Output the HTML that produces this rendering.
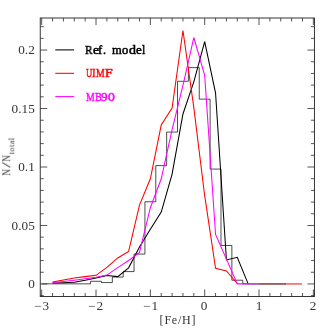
<!DOCTYPE html>
<html><head><meta charset="utf-8"><title>MDF</title>
<style>
html,body{margin:0;padding:0;background:#fff;}
body{width:332px;height:332px;position:relative;overflow:hidden;font-family:"Liberation Serif",serif;}
.t,.lg{will-change:transform;}
.t{position:absolute;font-size:12px;line-height:12px;color:#333;white-space:nowrap;}
.lg{position:absolute;font-size:12px;line-height:12px;-webkit-text-stroke:0.5px currentColor;white-space:nowrap;}
.yl{left:0px;top:0px;transform-origin:0 0;transform:translate(0.26px,175.8px) rotate(-90deg);}
.sub{font-size:8px;position:relative;top:4.4px;letter-spacing:0.6px;margin-left:0.3px;}
.nn{display:inline-block;width:6.9px;transform:scaleX(0.78);transform-origin:0 50%;}
.sl{display:inline-block;width:6.6px;margin-left:0.8px;transform:scaleX(1.75);transform-origin:0 50%;}
</style></head><body>
<svg width="332" height="332" viewBox="0 0 332 332" style="position:absolute;left:0;top:0">
<g fill="none" stroke-linejoin="miter">
<polyline points="41.70,283.85 90.60,283.85 90.60,281.28 101.46,281.28 101.46,282.57 112.33,282.57 112.33,277.08 123.20,277.08 123.20,271.59 134.06,271.59 134.06,254.08 144.93,254.08 144.93,201.77 155.79,201.77 155.79,165.58 166.66,165.58 166.66,132.08 177.52,132.08 177.52,81.29 188.39,81.29 188.39,67.63 199.26,67.63 199.26,99.15 210.12,99.15 210.12,169.08 220.99,169.08 220.99,245.44 231.86,245.44 231.86,280.23 242.72,280.23 242.72,283.85 248.15,283.85" stroke="#000" stroke-width="0.7"/>
<polyline points="52.57,282.92 63.43,282.68 74.30,282.33 85.16,280.35 96.03,278.01 106.90,275.56 117.76,276.61 128.63,267.86 139.49,247.07 150.36,229.33 161.23,212.05 172.09,174.11 182.96,113.98 193.82,81.87 204.69,41.71 215.56,93.08 226.42,259.92 237.29,257.35 248.15,283.85" stroke="#000" stroke-width="1.05"/>
<polyline points="52.57,282.10 63.43,280.00 74.30,278.01 85.16,276.61 96.03,275.33 106.90,267.39 117.76,257.93 128.63,251.39 139.49,205.04 150.36,178.78 161.23,125.07 172.09,108.14 182.96,30.50 193.82,107.56 204.69,195.70 215.56,268.21 226.42,270.89 237.29,283.50" stroke="#ff0000" stroke-width="1.05"/>
<polyline points="52.57,282.45 63.43,281.52 74.30,280.35 85.16,278.83 96.03,277.31 106.90,275.09 117.76,267.62 128.63,260.50 139.49,252.33 150.36,207.73 161.23,178.78 172.09,129.74 182.96,85.38 193.82,37.51 204.69,75.45 215.56,234.46 226.42,259.10 237.29,283.85 248.15,283.85" stroke="#ff00ff" stroke-width="1.05"/>
<path d="M248.15 283.95H259.02" stroke="#9b09aa" stroke-width="1.3"/>
<path d="M259.02 283.95H286.19" stroke="#791414" stroke-width="1.3"/>
<path d="M286.19 283.95H301.94" stroke="#ff0000" stroke-width="1.0"/>
<path d="M55.3 49.9H74.1" stroke="#000" stroke-width="1.05"/>
<path d="M55.3 73.3H74.1" stroke="#ff0000" stroke-width="1.05"/>
<path d="M55.3 96.6H74.1" stroke="#ff00ff" stroke-width="1.05"/>
<rect x="40.25" y="18.0" width="274.20" height="278.50" stroke="#2c2c2c" stroke-width="0.95"/>
<path d="M41.70 296.50v-7.0M41.70 18.00v7.0M52.57 296.50v-3.5M52.57 18.00v3.5M63.43 296.50v-3.5M63.43 18.00v3.5M74.30 296.50v-3.5M74.30 18.00v3.5M85.16 296.50v-3.5M85.16 18.00v3.5M96.03 296.50v-7.0M96.03 18.00v7.0M106.90 296.50v-3.5M106.90 18.00v3.5M117.76 296.50v-3.5M117.76 18.00v3.5M128.63 296.50v-3.5M128.63 18.00v3.5M139.49 296.50v-3.5M139.49 18.00v3.5M150.36 296.50v-7.0M150.36 18.00v7.0M161.23 296.50v-3.5M161.23 18.00v3.5M172.09 296.50v-3.5M172.09 18.00v3.5M182.96 296.50v-3.5M182.96 18.00v3.5M193.82 296.50v-3.5M193.82 18.00v3.5M204.69 296.50v-7.0M204.69 18.00v7.0M215.56 296.50v-3.5M215.56 18.00v3.5M226.42 296.50v-3.5M226.42 18.00v3.5M237.29 296.50v-3.5M237.29 18.00v3.5M248.15 296.50v-3.5M248.15 18.00v3.5M259.02 296.50v-7.0M259.02 18.00v7.0M269.89 296.50v-3.5M269.89 18.00v3.5M280.75 296.50v-3.5M280.75 18.00v3.5M291.62 296.50v-3.5M291.62 18.00v3.5M302.48 296.50v-3.5M302.48 18.00v3.5M313.35 296.50v-7.0M313.35 18.00v7.0M40.25 295.64h3.5M314.45 295.64h-3.5M40.25 283.95h7.0M314.45 283.95h-7.0M40.25 272.25h3.5M314.45 272.25h-3.5M40.25 260.56h3.5M314.45 260.56h-3.5M40.25 248.86h3.5M314.45 248.86h-3.5M40.25 237.17h3.5M314.45 237.17h-3.5M40.25 225.47h7.0M314.45 225.47h-7.0M40.25 213.78h3.5M314.45 213.78h-3.5M40.25 202.08h3.5M314.45 202.08h-3.5M40.25 190.39h3.5M314.45 190.39h-3.5M40.25 178.69h3.5M314.45 178.69h-3.5M40.25 167.00h7.0M314.45 167.00h-7.0M40.25 155.30h3.5M314.45 155.30h-3.5M40.25 143.61h3.5M314.45 143.61h-3.5M40.25 131.91h3.5M314.45 131.91h-3.5M40.25 120.22h3.5M314.45 120.22h-3.5M40.25 108.53h7.0M314.45 108.53h-7.0M40.25 96.83h3.5M314.45 96.83h-3.5M40.25 85.13h3.5M314.45 85.13h-3.5M40.25 73.44h3.5M314.45 73.44h-3.5M40.25 61.74h3.5M314.45 61.74h-3.5M40.25 50.05h7.0M314.45 50.05h-7.0M40.25 38.35h3.5M314.45 38.35h-3.5M40.25 26.66h3.5M314.45 26.66h-3.5" stroke="#2c2c2c" stroke-width="0.8"/>
</g>
</svg>
<div class="t" style="left:-65.3px;width:100px;text-align:right;top:278.1px;letter-spacing:0.1px;transform:scaleX(1.1);transform-origin:100% 50%;">0</div><div class="t" style="left:-65.3px;width:100px;text-align:right;top:219.6px;letter-spacing:0.1px;transform:scaleX(1.1);transform-origin:100% 50%;">0.05</div><div class="t" style="left:-65.3px;width:100px;text-align:right;top:161.1px;letter-spacing:0.1px;transform:scaleX(1.1);transform-origin:100% 50%;">0.1</div><div class="t" style="left:-65.3px;width:100px;text-align:right;top:102.6px;letter-spacing:0.1px;transform:scaleX(1.1);transform-origin:100% 50%;">0.15</div><div class="t" style="left:-65.3px;width:100px;text-align:right;top:44.1px;letter-spacing:0.1px;transform:scaleX(1.1);transform-origin:100% 50%;">0.2</div><div class="t" style="left:-8.3px;width:100px;text-align:center;top:300.0px;letter-spacing:0.6px;transform:scaleX(1.1);transform-origin:50% 50%;">−3</div><div class="t" style="left:46.0px;width:100px;text-align:center;top:300.0px;letter-spacing:0.6px;transform:scaleX(1.1);transform-origin:50% 50%;">−2</div><div class="t" style="left:100.7px;width:100px;text-align:center;top:300.0px;letter-spacing:0.6px;transform:scaleX(1.1);transform-origin:50% 50%;">−1</div><div class="t" style="left:154.4px;width:100px;text-align:center;top:300.0px;transform:scaleX(1.1);transform-origin:50% 50%;">0</div><div class="t" style="left:209.2px;width:100px;text-align:center;top:300.0px;transform:scaleX(1.1);transform-origin:50% 50%;">1</div><div class="t" style="left:262.8px;width:100px;text-align:center;top:300.0px;transform:scaleX(1.1);transform-origin:50% 50%;">2</div><div class="t" style="left:127.5px;width:100px;text-align:center;top:314.4px;letter-spacing:0.8px;">[Fe/H]</div><div class="lg" style="left:85.18px;top:44.06px;color:#000;transform:scaleX(0.929);transform-origin:0 0;">R</div><div class="lg" style="left:92.58px;top:44.06px;color:#000;transform:scaleX(1.104);transform-origin:0 0;">e</div><div class="lg" style="left:98.01px;top:44.06px;color:#000;transform:scaleX(1.049);transform-origin:0 0;">f</div><div class="lg" style="left:103.22px;top:44.06px;color:#000;transform:scaleX(0.989);transform-origin:0 0;">.</div><div class="lg" style="left:112.34px;top:44.06px;color:#000;transform:scaleX(1.046);transform-origin:0 0;">m</div><div class="lg" style="left:122.43px;top:44.06px;color:#000;transform:scaleX(1.042);transform-origin:0 0;">o</div><div class="lg" style="left:128.50px;top:44.06px;color:#000;transform:scaleX(1.162);transform-origin:0 0;">d</div><div class="lg" style="left:135.69px;top:44.06px;color:#000;transform:scaleX(1.081);transform-origin:0 0;">e</div><div class="lg" style="left:141.87px;top:44.06px;color:#000;transform:scaleX(0.945);transform-origin:0 0;">l</div><div class="lg" style="left:85.72px;top:66.96px;color:#ff0000;transform:scaleX(0.711);transform-origin:0 0;">U</div><div class="lg" style="left:92.32px;top:66.96px;color:#ff0000;transform:scaleX(0.891);transform-origin:0 0;">I</div><div class="lg" style="left:95.72px;top:66.96px;color:#ff0000;transform:scaleX(0.812);transform-origin:0 0;">M</div><div class="lg" style="left:104.50px;top:66.96px;color:#ff0000;transform:scaleX(1.154);transform-origin:0 0;">F</div><div class="lg" style="left:85.62px;top:90.86px;color:#ff00ff;transform:scaleX(0.812);transform-origin:0 0;">M</div><div class="lg" style="left:94.60px;top:90.86px;color:#ff00ff;transform:scaleX(0.849);transform-origin:0 0;">B</div><div class="lg" style="left:101.38px;top:90.86px;color:#ff00ff;transform:scaleX(1.093);transform-origin:0 0;">9</div><div class="lg" style="left:107.58px;top:90.86px;color:#ff00ff;transform:scaleX(1.140);transform-origin:0 0;">0</div>
<div class="t yl"><span class="nn">N</span><span class="sl">/</span><span class="nn">N</span><span class="sub">total</span></div>
</body></html>
